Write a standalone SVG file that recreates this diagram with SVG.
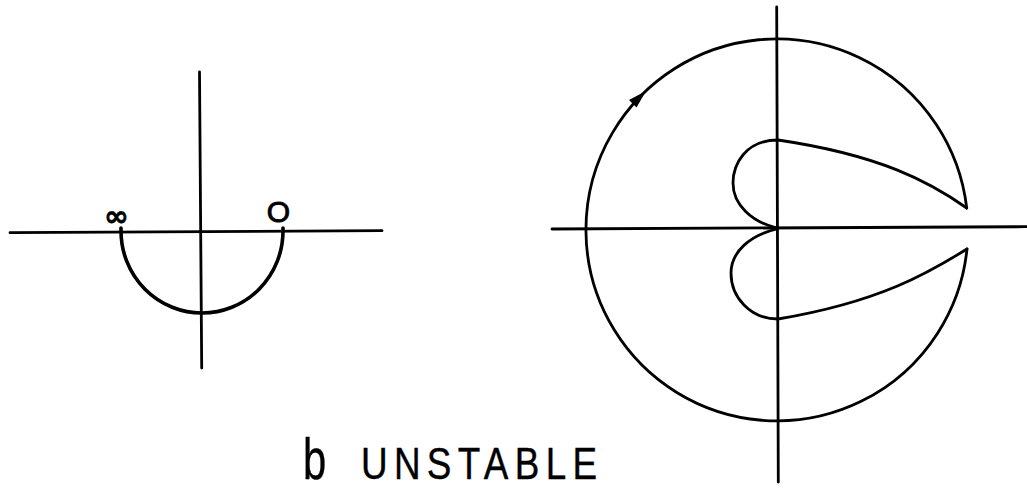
<svg xmlns="http://www.w3.org/2000/svg" width="1027" height="492" viewBox="0 0 1027 492">
<style>
.ln{fill:none;stroke:#000;stroke-width:2.8;stroke-linecap:round;stroke-linejoin:round}
.thick{stroke-width:3.6}
.lbl{font-family:"Liberation Sans",Arial,sans-serif;fill:#000;stroke:#000;stroke-width:0.9}
.cap{font-family:"Liberation Sans",Arial,sans-serif;fill:#000;stroke:#000;stroke-width:0.4}
.sym{font-family:"DejaVu Sans",sans-serif;fill:#000;stroke:#000;stroke-width:0.6}
</style>
<rect width="1027" height="492" fill="#fff"/>
<g id="left-plane">
<line class="ln" x1="10" y1="232.7" x2="382" y2="230.7"/>
<line class="ln" x1="199.5" y1="72" x2="201.7" y2="368"/>
</g>
<g id="connectors">
<path id="locus" class="ln thick" d="M121,228 L121,231 A81,82 0 0 0 283,231 L283,228"/>
<path id="nyquist-circle" class="ln" d="M966.7,208 A191,191 0 1 0 967,249"/>
<path id="upper-branch" class="ln" d="M966.7,208 C930,182 880,155 778,140 C745,140 733,165 733,183 C733,205 752,222 777,228"/>
<path id="lower-branch" class="ln" d="M967,249 C930,272 880,302 778,319 C750,319 731,297 731,273 C731,252 750,235 777,229"/>
<polygon id="arrowhead" points="646,91 636.5,107.5 629,100" fill="#000"/>
</g>
<g id="right-plane">
<line class="ln" x1="552" y1="229" x2="1027" y2="226.7"/>
<line class="ln" x1="776.7" y1="7" x2="778.3" y2="482"/>
</g>
<g id="label-inf"><text class="sym" x="104" y="225.5" font-size="29" font-weight="bold" textLength="25" lengthAdjust="spacingAndGlyphs">∞</text></g>
<g id="label-zero"><text class="lbl" x="278.5" y="221.5" font-size="30" text-anchor="middle">O</text></g>
<g id="caption">
<text class="cap" transform="scale(0.72,1)" x="420.8" y="479" font-size="58">b</text>
<text class="cap" transform="scale(0.82,1)" x="440.2" y="479" font-size="45" textLength="288" lengthAdjust="spacing">UNSTABLE</text>
</g>
</svg>
